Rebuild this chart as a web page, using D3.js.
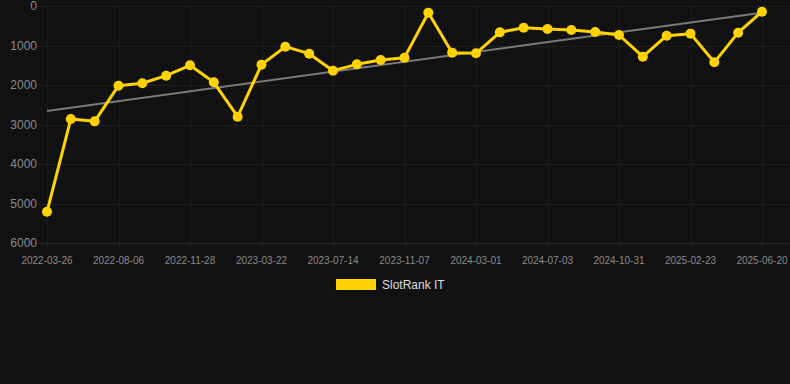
<!DOCTYPE html>
<html>
<head>
<meta charset="utf-8">
<script src="https://cdn.jsdelivr.net/npm/d3@7"></script>
<style>
	html, body { margin: 0; padding: 0; background: #111111; }
	svg { display: block; font-family: "Liberation Sans", Arial, sans-serif; }
</style>
</head>
<body>
<div id="chart"></div>
<script>
// Dates on the category axis (every third one is labelled)
const dates = [
	"2022-03-26", "2022-04-30", "2022-06-04", "2022-08-06", "2022-09-13", "2022-10-21",
	"2022-11-28", "2023-01-05", "2023-02-12", "2023-03-22", "2023-04-29", "2023-06-06",
	"2023-07-14", "2023-08-21", "2023-09-29", "2023-11-07", "2023-12-15", "2024-01-23",
	"2024-03-01", "2024-04-11", "2024-05-22", "2024-07-03", "2024-08-12", "2024-09-21",
	"2024-10-31", "2024-12-08", "2025-01-15", "2025-02-23", "2025-04-01", "2025-05-11",
	"2025-06-20"
];
const rankIT = [
	5210, 2860, 2920, 2017, 1957, 1764, 1502, 1932, 2802, 1485, 1030, 1207,
	1637, 1477, 1367, 1308, 169, 1181, 1198, 667, 549, 582, 608, 658,
	734, 1283, 751, 700, 1426, 675, 144
];
const yTicks = [0, 1000, 2000, 3000, 4000, 5000, 6000];
const seriesName = "SlotRank IT";

const width = 790, height = 384;
const plotLeft = 38, plotRight = 790, plotTop = 6, plotBottom = 243;

const svg = d3.select("#chart").append("svg")
	.attr("width", width)
	.attr("height", height);

const x = d3.scalePoint()
	.domain(dates)
	.range([47, 762]);

const y = d3.scaleLinear()
	.domain([0, 6000])
	.range([plotTop, plotBottom]);

const labelled = dates.filter((d, i) => i % 3 === 0);

// grid
const grid = svg.append("g").attr("stroke-width", 1);
grid.selectAll("line.h")
	.data(yTicks)
	.join("line")
	.attr("class", "h")
	.attr("stroke", d => d === 6000 ? "#262626" : "#1d1d1d")
	.attr("x1", plotLeft).attr("x2", plotRight)
	.attr("y1", d => Math.round(y(d)) + 0.5)
	.attr("y2", d => Math.round(y(d)) + 0.5);
grid.selectAll("line.v")
	.data(labelled)
	.join("line")
	.attr("class", "v")
	.attr("stroke", "#1d1d1d")
	.attr("x1", d => Math.round(x(d)) + 0.5)
	.attr("x2", d => Math.round(x(d)) + 0.5)
	.attr("y1", plotTop).attr("y2", plotBottom + 6);

// y axis labels
svg.append("g")
	.selectAll("text")
	.data(yTicks)
	.join("text")
	.attr("x", 37)
	.attr("y", d => y(d))
	.attr("dy", "0.35em")
	.attr("text-anchor", "end")
	.attr("fill", "#8a8a8a")
	.style("font-size", "12px")
	.text(d => d);

// x axis labels
svg.append("g")
	.selectAll("text")
	.data(labelled)
	.join("text")
	.attr("x", d => x(d))
	.attr("y", 260)
	.attr("dy", "0.35em")
	.attr("text-anchor", "middle")
	.attr("fill", "#8a8a8a")
	.style("font-size", "10px")
	.text(d => d);

// trend line (least squares on the index)
const n = rankIT.length;
const xs = d3.range(n);
const mx = d3.mean(xs), my = d3.mean(rankIT);
const slope = d3.sum(xs, i => (i - mx) * (rankIT[i] - my)) / d3.sum(xs, i => (i - mx) ** 2);
const icpt = my - slope * mx;
svg.append("line")
	.attr("x1", x(dates[0]))
	.attr("y1", y(icpt))
	.attr("x2", x(dates[n - 1]))
	.attr("y2", y(icpt + slope * (n - 1)))
	.attr("stroke", "#7a7a7a")
	.attr("stroke-width", 2);

// series
const line = d3.line()
	.x((d, i) => x(dates[i]))
	.y(d => y(d));

svg.append("path")
	.datum(rankIT)
	.attr("fill", "none")
	.attr("stroke", "#ffd200")
	.attr("stroke-width", 3)
	.attr("stroke-linejoin", "round")
	.attr("d", line);

svg.append("g")
	.selectAll("circle")
	.data(rankIT)
	.join("circle")
	.attr("cx", (d, i) => x(dates[i]))
	.attr("cy", d => y(d))
	.attr("r", 5)
	.attr("fill", "#ffd200");

// legend
const legend = svg.append("g");
legend.append("rect")
	.attr("x", 336).attr("y", 279)
	.attr("width", 40).attr("height", 11)
	.attr("fill", "#ffd200");
legend.append("text")
	.attr("x", 382).attr("y", 285)
	.attr("dy", "0.35em")
	.attr("fill", "#dddddd")
	.style("font-size", "12px")
	.text(seriesName);
</script>
</body>
</html>
